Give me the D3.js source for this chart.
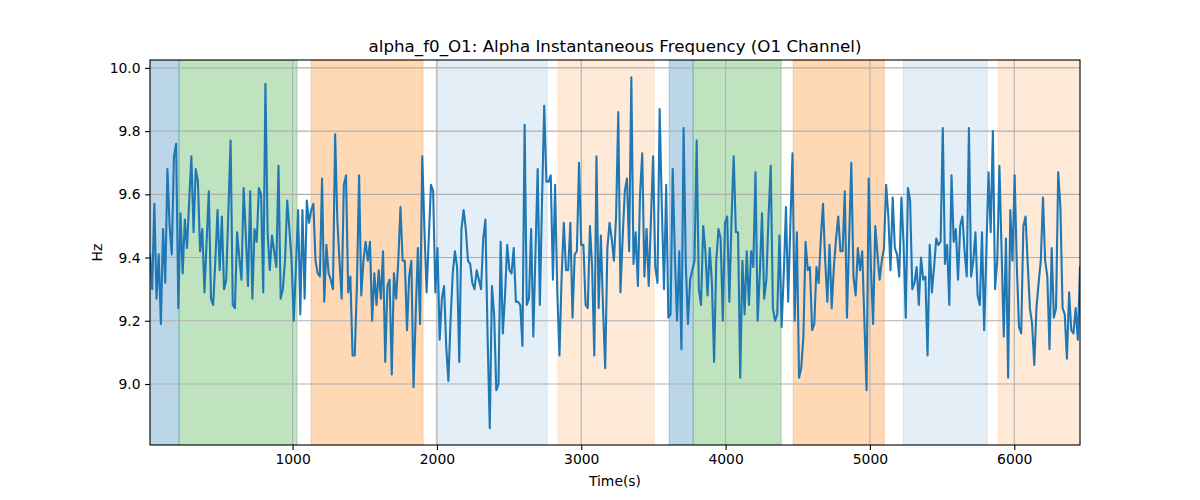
<!DOCTYPE html>
<html>
<head>
<meta charset="utf-8">
<script src="https://cdn.jsdelivr.net/npm/d3@7"></script>
<style>
  html, body { margin: 0; padding: 0; background: #fff; }
  svg { display: block; font-family: "DejaVu Sans", sans-serif; }
</style>
</head>
<body>
<svg id="chart" width="1200" height="500"></svg>
<script>
// ---- data ----
const title = "alpha_f0_O1: Alpha Instantaneous Frequency (O1 Channel)";
const xLabel = "Time(s)";
const yLabel = "Hz";
const tStart = 12;
const tStep = 15.09;
const values = [
  9.41,9.30,9.57,9.27,9.41,9.19,9.49,9.32,9.68,9.50,9.41,9.72,9.76,9.24,9.54,9.35,9.52,9.43,9.58,9.72,9.48,9.68,9.64,9.42,9.49,9.29,9.45,9.61,9.27,9.25,9.39,9.55,9.36,9.53,9.30,9.33,9.55,
  9.77,9.25,9.24,9.48,9.40,9.33,9.62,9.47,9.31,9.61,9.27,9.49,9.45,9.62,9.60,9.29,9.95,9.48,9.36,9.47,9.42,9.37,9.69,9.27,9.30,9.39,9.58,9.49,9.39,9.20,9.37,9.55,9.22,9.55,9.27,
  9.58,9.51,9.55,9.57,9.39,9.35,9.34,9.65,9.26,9.44,9.35,9.33,9.30,9.79,9.52,9.39,9.27,9.63,9.66,9.29,9.34,9.09,9.09,9.31,9.66,9.28,9.39,9.45,9.39,9.45,9.20,9.35,9.25,9.36,9.27,9.42,
  9.07,9.31,9.33,9.03,9.35,9.27,9.39,9.56,9.39,9.39,9.17,9.34,9.39,8.99,9.22,9.43,9.19,9.72,9.49,9.29,9.46,9.63,9.61,9.29,9.43,9.14,9.27,9.31,9.12,9.01,9.20,9.35,9.42,9.37,9.07,9.49,
  9.55,9.49,9.39,9.38,9.32,9.30,9.36,9.33,9.30,9.46,9.52,9.15,8.86,9.31,9.22,8.98,9.00,9.45,9.16,9.28,9.44,9.36,9.35,9.43,9.26,9.26,9.25,9.12,9.82,9.25,9.27,9.49,9.15,9.42,9.68,9.25,
  9.58,9.88,9.64,9.64,9.66,9.33,9.63,9.29,9.09,9.34,9.51,9.36,9.36,9.51,9.21,9.41,9.42,9.70,9.44,9.44,9.25,9.24,9.50,9.37,9.09,9.72,9.24,9.47,9.24,9.05,9.43,9.51,9.46,9.39,9.53,9.86,
  9.29,9.46,9.61,9.65,9.42,9.97,9.38,9.48,9.31,9.60,9.73,9.34,9.49,9.31,9.52,9.72,9.37,9.32,9.87,9.56,9.30,9.63,9.21,9.22,9.68,9.40,9.20,9.42,9.11,9.81,9.38,9.19,9.33,9.36,9.39,9.77,
  9.30,9.25,9.50,9.42,9.28,9.43,9.32,9.07,9.39,9.49,9.46,9.20,9.51,9.53,9.26,9.52,9.72,9.48,9.48,9.02,9.39,9.22,9.42,9.25,9.42,9.37,9.67,9.20,9.35,9.54,9.27,9.33,9.53,9.69,9.24,9.20,
  9.22,9.47,9.18,9.35,9.56,9.26,9.50,9.73,9.20,9.48,9.02,9.05,9.15,9.45,9.36,9.37,9.17,9.19,9.37,9.32,9.46,9.57,9.39,9.26,9.44,9.24,9.37,9.46,9.53,9.42,9.42,9.61,9.21,9.46,9.70,9.34,
  9.28,9.43,9.36,9.42,9.20,8.98,9.65,9.37,9.19,9.50,9.41,9.33,9.39,9.43,9.63,9.53,9.36,9.59,9.43,9.41,9.34,9.59,9.44,9.21,9.62,9.58,9.30,9.32,9.37,9.25,9.40,9.33,9.34,9.09,9.44,9.29,
  9.37,9.46,9.44,9.45,9.81,9.38,9.44,9.25,9.66,9.45,9.49,9.33,9.50,9.53,9.42,9.34,9.81,9.34,9.39,9.48,9.28,9.25,9.48,9.17,9.42,9.67,9.48,9.80,9.30,9.39,9.69,9.42,9.15,9.46,9.02,
  9.55,9.39,9.66,9.37,9.18,9.16,9.50,9.53,9.38,9.24,9.19,9.06,9.24,9.32,9.39,9.59,9.39,9.34,9.11,9.43,9.21,9.24,9.67,9.56,9.24,9.22,9.08,9.29,9.17,9.16,9.24,9.14,9.37
];
const times = values.map((v, i) => tStart + i * tStep);

const bandStart = [0, 213, 1128, 1994, 2840, 3609, 3775, 4468, 5231, 5889];
const bandEnd   = [213, 1031, 1904, 2764, 3505, 3775, 4385, 5099, 5813, 6500];
const bandState = ["s1", "s2", "s3", "s4", "s5", "s1", "s2", "s3", "s4", "s5"];

const xTicks = [1000, 2000, 3000, 4000, 5000, 6000];
const yTicks = [9.0, 9.2, 9.4, 9.6, 9.8, 10.0];

// ---- styles ----
const stateColor = { s1: "#1f77b4", s2: "#2ca02c", s3: "#ff7f0e", s4: "#1f77b4", s5: "#ff7f0e" };
const stateAlpha = { s1: 0.3, s2: 0.3, s3: 0.3, s4: 0.12, s5: 0.16 };

const svg = d3.select("#chart");
const M = { left: 150, right: 1080, top: 60, bottom: 445 };

const x = d3.scaleLinear().domain([times[0], times[times.length - 1]]).range([M.left, M.right]);
const y = d3.scaleLinear().domain([8.807, 10.025]).range([M.bottom, M.top]);

svg.append("defs").append("clipPath").attr("id", "clip")
  .append("rect").attr("x", M.left).attr("y", M.top)
  .attr("width", M.right - M.left).attr("height", M.bottom - M.top);

const plot = svg.append("g").attr("clip-path", "url(#clip)");

// bands
plot.selectAll("rect.band").data(bandStart.map((s, i) => ({ s, e: bandEnd[i], k: bandState[i] })))
  .enter().append("rect").attr("class", "band")
  .attr("x", d => x(d.s)).attr("width", d => x(d.e) - x(d.s))
  .attr("y", M.top).attr("height", M.bottom - M.top)
  .attr("fill", d => stateColor[d.k]).attr("fill-opacity", d => stateAlpha[d.k])
  .attr("stroke", d => stateColor[d.k]).attr("stroke-opacity", d => stateAlpha[d.k])
  .attr("stroke-width", 1);

// grid
plot.selectAll("line.gx").data(xTicks).enter().append("line")
  .attr("x1", d => x(d)).attr("x2", d => x(d)).attr("y1", M.top).attr("y2", M.bottom)
  .attr("stroke", "#b0b0b0").attr("stroke-width", 1.1);
plot.selectAll("line.gy").data(yTicks).enter().append("line")
  .attr("y1", d => y(d)).attr("y2", d => y(d)).attr("x1", M.left).attr("x2", M.right)
  .attr("stroke", "#b0b0b0").attr("stroke-width", 1.1);

// line
plot.append("path").datum(values)
  .attr("fill", "none").attr("stroke", "#1f77b4").attr("stroke-width", 2.1)
  .attr("stroke-linejoin", "round").attr("stroke-linecap", "square")
  .attr("d", d3.line().x((d, i) => x(times[i])).y(d => y(d)));

// axes
const xAxis = svg.append("g").attr("transform", `translate(0,${M.bottom})`)
  .call(d3.axisBottom(x).tickValues(xTicks).tickFormat(d3.format("d")).tickSizeOuter(0).tickSize(4.9).tickPadding(4.5));
const yAxis = svg.append("g").attr("transform", `translate(${M.left},0)`)
  .call(d3.axisLeft(y).tickValues(yTicks).tickFormat(d3.format(".1f")).tickSizeOuter(0).tickSize(4.9).tickPadding(4.5));
[xAxis, yAxis].forEach(g => {
  g.select(".domain").remove();
  g.selectAll(".tick line").attr("stroke", "#000").attr("stroke-width", 1.1);
  g.selectAll(".tick text").attr("fill", "#000").style("font-size", "13.9px").style("font-family", "DejaVu Sans");
});

// spines
svg.append("rect").attr("x", M.left).attr("y", M.top)
  .attr("width", M.right - M.left).attr("height", M.bottom - M.top)
  .attr("fill", "none").attr("stroke", "#000").attr("stroke-width", 1.1);

// labels
svg.append("text").attr("x", (M.left + M.right) / 2).attr("y", 52)
  .attr("text-anchor", "middle").style("font-size", "16.7px").attr("fill", "#000").text(title);
svg.append("text").attr("x", (M.left + M.right) / 2).attr("y", 486)
  .attr("text-anchor", "middle").style("font-size", "13.9px").attr("fill", "#000").text(xLabel);
svg.append("text").attr("transform", `translate(102,${(M.top + M.bottom) / 2}) rotate(-90)`)
  .attr("text-anchor", "middle").style("font-size", "13.9px").attr("fill", "#000").text(yLabel);
</script>
</body>
</html>
